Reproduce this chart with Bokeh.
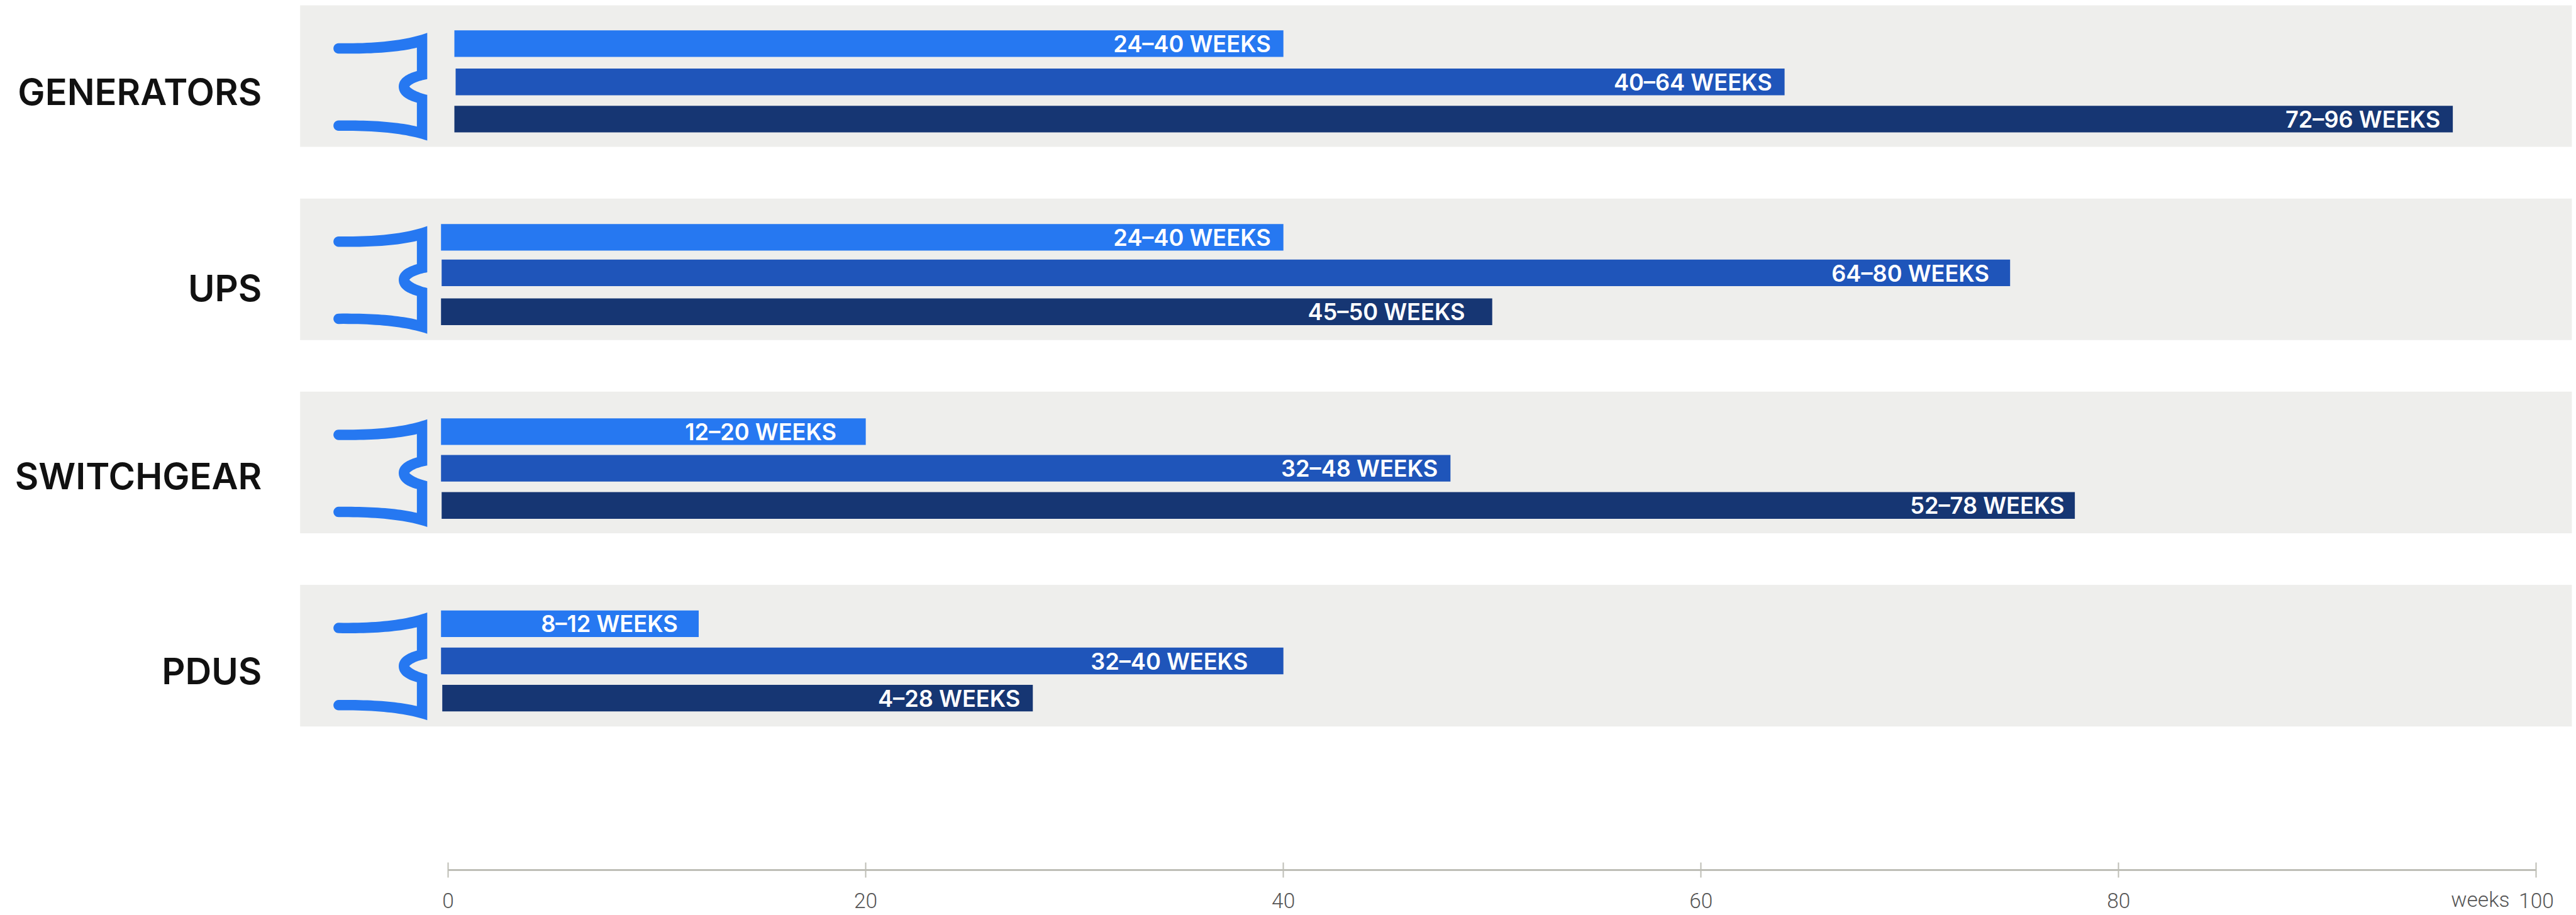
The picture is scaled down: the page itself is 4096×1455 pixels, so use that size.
import numpy as np
from bokeh.core.properties import value
from bokeh.embed import file_html
from bokeh.models import ColumnDataSource, FixedTicker, LinearAxis, Range1d
from bokeh.plotting import figure
from bokeh.resources import INLINE

categories = ["GENERATORS", "UPS", "SWITCHGEAR", "PDUS"]
bar_ends = [[40, 64, 96], [40, 74.8, 50], [20, 48, 77.9], [12, 40, 28]]
bar_starts = [[0.30, 0.36, 0.30], [-0.34, -0.31, -0.34], [-0.34, -0.34, -0.31], [-0.34, -0.34, -0.28]]
bar_labels = [["24–40 WEEKS", "40–64 WEEKS", "72–96 WEEKS"],
              ["24–40 WEEKS", "64–80 WEEKS", "45–50 WEEKS"],
              ["12–20 WEEKS", "32–48 WEEKS", "52–78 WEEKS"],
              ["8–12 WEEKS", "32–40 WEEKS", "4–28 WEEKS"]]
label_ends = [[39.4, 63.4, 95.4], [39.4, 73.8, 48.7], [18.6, 47.4, 77.4], [11.0, 38.3, 27.4]]
tick_values = [0, 20, 40, 60, 80, 100]
axis_title = "weeks"

SCALE = 4096 / 4640
W, H = 4096, 1455
X0, X100 = 806.6, 4568.0
PW = (X100 - X0) / 100
week = lambda px: (px - X0) / PW
PANEL_TOP = [9, 357, 705, 1053]
PANEL_H = 255
BAR_H = 48
BAR_TOP = [[45, 114, 181], [46, 110, 180], [48, 114, 181], [46, 113, 180]]
NAME_BASE = [188, 542, 880, 1232]
COLORS = ["#2678F1", "#1F55BA", "#163673"]
BASE_FIX = 0.36
NAME_SIZE, BAR_SIZE, TICK_SIZE = 65.5, 41, 38

p = figure(width=W, height=H, output_backend="svg", toolbar_location=None,
           x_range=Range1d(week(0), week(W / SCALE)),
           y_range=Range1d(H / SCALE, 0),
           x_axis_type=None, y_axis_type=None,
           min_border=0, min_border_left=0, min_border_right=0, min_border_top=0, min_border_bottom=0)
p.outline_line_color = None
p.grid.visible = False

p.quad(left=[week(540)] * 4, right=[week(4632)] * 4, top=PANEL_TOP,
       bottom=[t + PANEL_H for t in PANEL_TOP], fill_color="#EEEEEC", line_color=None)


def bez(a, c, b, n=24):
    t = np.linspace(0, 1, n)[:, None]
    a, b, c = map(np.array, (a, b, c))
    return (1 - t) ** 2 * a + 2 * t * (1 - t) * c + t ** 2 * b


def icon_outline():
    th = np.linspace(np.pi / 2, 3 * np.pi / 2, 14)
    parts = [
        bez((328, 142), (640, 146), (807, 86)),
        bez((807, 336), (735, 349), (710, 376)),
        bez((710, 376), (735, 403), (807, 421)),
        bez((807, 668), (640, 612), (328, 615)),
        np.c_[328 + 28 * np.cos(th), 587 + 28 * np.sin(th)],
        bez((328, 559), (600, 556), (751, 592)),
        bez((751, 463), (653, 436), (653, 376)),
        bez((653, 376), (653, 320), (751, 292)),
        bez((751, 166), (600, 202), (328, 198)),
        np.c_[328 + 28 * np.cos(th), 170 + 28 * np.sin(th)],
    ]
    xy = np.vstack(parts)
    return 500 + xy[:, 0] / 3, 30 + xy[:, 1] / 3 - PANEL_TOP[0]


ix, iy = icon_outline()
p.patches([list(week(ix))] * 4, [list(iy + t) for t in PANEL_TOP], fill_color=COLORS[0], line_color=None)

for i, top in enumerate(PANEL_TOP):
    tops = [top + d for d in BAR_TOP[i]]
    p.quad(left=bar_starts[i], right=bar_ends[i], top=tops, bottom=[t + BAR_H for t in tops],
           fill_color=COLORS, line_color=None)
    src = ColumnDataSource(dict(x=label_ends[i], y=[t + 24 + 15.5 - BASE_FIX * BAR_SIZE for t in tops], t=bar_labels[i]))
    p.text("x", "y", text="t", source=src, text_color="#FFFFFF", text_align="right",
           text_baseline="alphabetic", text_font=value("Inter SemiBold"), text_font_size=f"{BAR_SIZE * SCALE:.1f}px")

src = ColumnDataSource(dict(x=[week(471)] * 4, y=[b - BASE_FIX * NAME_SIZE for b in NAME_BASE], t=categories))
p.text("x", "y", text="t", source=src, text_color="#111111", text_align="right", text_baseline="alphabetic",
       text_font=value("Inter SemiBold"), text_font_size=f"{NAME_SIZE * SCALE:.1f}px")

axis = LinearAxis(ticker=FixedTicker(ticks=tick_values), fixed_location=1567, bounds=(0, 100))
axis.axis_line_color = "#BEBEB6"
axis.axis_line_width = 3
axis.major_tick_line_color = "#BEBEB6"
axis.major_tick_line_width = 2
axis.major_tick_in = 12
axis.major_tick_out = 12
axis.minor_tick_line_color = None
axis.major_label_standoff = 24
axis.major_label_text_color = "#555555"
axis.major_label_text_font = "Roboto Light"
axis.major_label_text_font_size = f"{TICK_SIZE * SCALE:.1f}px"
p.add_layout(axis, "below")

p.text([week(4520)], [1634 - BASE_FIX * TICK_SIZE], text=[axis_title], text_color="#555555", text_align="right",
       text_baseline="alphabetic", text_font=value("Roboto Light"), text_font_size=f"{TICK_SIZE * SCALE:.1f}px")

open("out.html", "w").write(file_html(p, INLINE))
